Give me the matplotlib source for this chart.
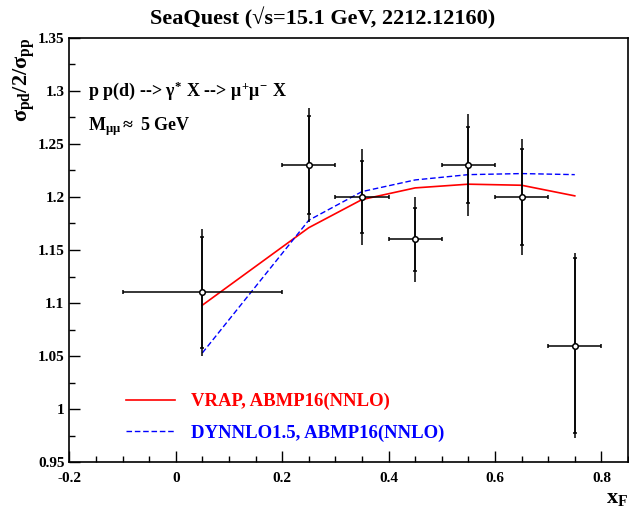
import matplotlib
matplotlib.use("Agg")
import matplotlib.pyplot as plt
from matplotlib.ticker import MultipleLocator

plt.rcParams['font.family'] = ['Liberation Serif', 'DejaVu Serif']
plt.rcParams['font.weight'] = 'bold'
plt.rcParams['mathtext.fontset'] = 'custom'
plt.rcParams['mathtext.rm'] = 'Liberation Serif:bold'
plt.rcParams['mathtext.it'] = 'Liberation Serif:bold'
plt.rcParams['mathtext.bf'] = 'Liberation Serif:bold'

# SeaQuest data points
xf = [0.05, 0.25, 0.35, 0.45, 0.55, 0.65, 0.75]
xf_err = [0.15, 0.05, 0.05, 0.05, 0.05, 0.05, 0.05]
ratio = [1.11, 1.23, 1.20, 1.16, 1.23, 1.20, 1.06]
stat_err = [0.052, 0.046, 0.034, 0.030, 0.036, 0.045, 0.082]
tot_err = [0.060, 0.054, 0.045, 0.040, 0.048, 0.055, 0.087]

# theory curves
xf_th = [0.05, 0.25, 0.35, 0.45, 0.55, 0.65, 0.75]
vrap = [1.098, 1.171, 1.1975, 1.2085, 1.212, 1.211, 1.201]
dynnlo = [1.053, 1.178, 1.205, 1.216, 1.221, 1.222, 1.221]

fig = plt.figure(figsize=(6.29, 5.12), dpi=100)
ax = fig.add_axes([69.3 / 629, 1 - 462.3 / 512, (628 - 69.3) / 629, (462.3 - 37.7) / 512])

l1, = ax.plot(xf_th, vrap, color='red', lw=1.2)
l2, = ax.plot(xf_th, dynnlo, color='blue', lw=1.0, dashes=(4, 2))

# total error (no caps), then stat error + x bins with caps
ax.errorbar(xf, ratio, yerr=tot_err, fmt='none', ecolor='black', elinewidth=1.1, capsize=0)
ax.errorbar(xf, ratio, xerr=xf_err, yerr=stat_err, fmt='o', color='black',
            mfc='white', mec='black', ms=4, mew=1.1, elinewidth=1.1,
            capsize=1.6, capthick=1.0, zorder=5)

ax.set_xlim(-0.2, 0.85)
ax.set_ylim(0.95, 1.35)
ax.xaxis.set_minor_locator(MultipleLocator(0.05))
ax.yaxis.set_minor_locator(MultipleLocator(0.025))
ax.tick_params(which='both', direction='in', top=False, right=False, labelsize=11)
ax.tick_params(which='major', length=8, width=1)
ax.tick_params(which='minor', length=4, width=1)
ax.tick_params(axis='x', pad=7)
ax.set_xticks([-0.2, 0, 0.2, 0.4, 0.6, 0.8])
ax.set_xticklabels(['-0.2', '0', '0.2', '0.4', '0.6', '0.8'])
ax.set_yticks([0.95, 1.0, 1.05, 1.1, 1.15, 1.2, 1.25, 1.3, 1.35])
ax.set_yticklabels(['0.95', '1', '1.05', '1.1', '1.15', '1.2', '1.25', '1.3', '1.35'])
for s in ax.spines.values():
    s.set_linewidth(1.2)

ax.text(0.033, 0.874, r'p p(d) --> $\gamma^{*}$ X --> $\mu^{+}\mu^{-}$ X',
        transform=ax.transAxes, fontsize=13, va='center', ha='left')
ax.text(0.033, 0.79, r'M$_{\mu\mu}$$\approx$ 5 GeV',
        transform=ax.transAxes, fontsize=13, va='center', ha='left')

leg = ax.legend([l1, l2], ['VRAP, ABMP16(NNLO)', 'DYNNLO1.5, ABMP16(NNLO)'],
                loc='lower left', bbox_to_anchor=(0.072, 0.009), frameon=False,
                fontsize=13.5, handlelength=2.6, handletextpad=0.85, labelspacing=0.75)
for t, c in zip(leg.get_texts(), ['red', 'blue']):
    t.set_color(c)

fig.text(0.513, 0.965, 'SeaQuest (\u221as=15.1 GeV, 2212.12160)',
         fontsize=16, ha='center', va='center')
fig.text(0.038, 0.927, r'$\sigma_{pd}/2/\sigma_{pp}$', fontsize=16,
         rotation=90, ha='center', va='top')
fig.text(0.999, 0.008, r'x$_{F}$', fontsize=16, ha='right', va='bottom')

fig.savefig('out.png', dpi=100)
